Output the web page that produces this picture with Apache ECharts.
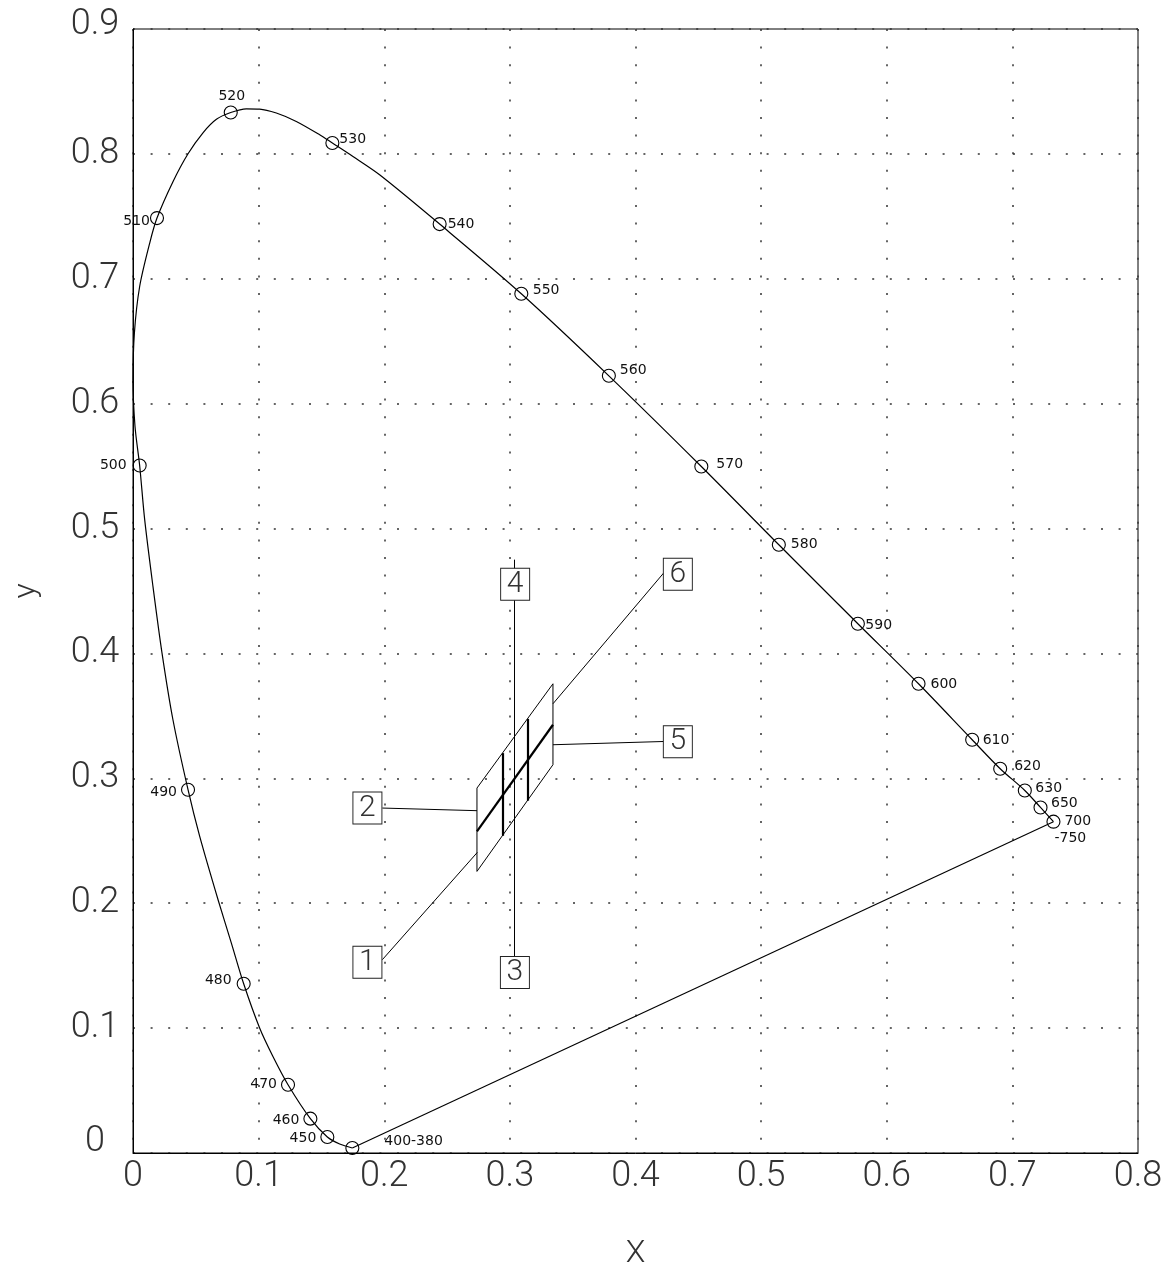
<!DOCTYPE html>
<html>
<head>
<meta charset="utf-8">
<script src="https://cdn.jsdelivr.net/npm/echarts@6/dist/echarts.min.js"></script>
<style>
html,body{margin:0;padding:0;background:#fff;}
#c{width:1176px;height:1266px;}
</style>
</head>
<body>
<div id="c"></div>
<script>
// ---- data ----
// marked wavelengths (circles)
const markLabels = ['400-380','450','460','470','480','490','500','510','520','530','540','550','560','570','580','590','600','610','620','630','650','700'];
const markX = [0.1746,0.1547,0.1412,0.1234,0.0881,0.0438,0.0053,0.0191,0.0778,0.1587,0.2441,0.3091,0.3788,0.4524,0.5141,0.5770,0.6253,0.6680,0.6903,0.7099,0.7224,0.7327];
const markY = [0.0040,0.0128,0.0275,0.0547,0.1355,0.2909,0.5505,0.7486,0.8331,0.8087,0.7438,0.6880,0.6223,0.5497,0.4870,0.4238,0.3757,0.3309,0.3077,0.2903,0.2767,0.2653];
// spectral locus
const locusX = [0.1746,0.1645,0.1547,0.1412,0.1234,0.1114,0.1008,0.0881,0.0783,0.0677,0.0531,0.0438,0.0318,0.0231,0.0159,0.0093,0.0053,0.0016,0.0000,0.0011,0.0053,0.0133,0.0191,0.0318,0.0438,0.0557,0.0664,0.0778,0.0902,0.1008,0.1141,0.1300,0.1486,0.1587,0.1751,0.1963,0.2441,0.3091,0.3788,0.4524,0.5141,0.5770,0.6253,0.6680,0.6903,0.7099,0.7224,0.7327];
const locusY = [0.0040,0.0072,0.0128,0.0275,0.0547,0.0773,0.1001,0.1355,0.1681,0.2028,0.2535,0.2909,0.3469,0.4003,0.4536,0.5071,0.5505,0.5817,0.6191,0.6565,0.6938,0.7286,0.7486,0.7777,0.8001,0.8169,0.8277,0.8331,0.8361,0.8359,0.8327,0.8260,0.8153,0.8087,0.7979,0.7833,0.7438,0.6880,0.6223,0.5497,0.4870,0.4238,0.3757,0.3309,0.3077,0.2903,0.2767,0.2653];
// purple line (closing)
const purpleX = [0.1746,0.7327];
const purpleY = [0.0040,0.2653];
// tolerance parallelogram and its grid lines
const paraX = [0.2738,0.3343,0.3343,0.2738,0.2738];
const paraY = [0.2922,0.3757,0.3109,0.2255,0.2922];
const thickLines = [
  [[0.2738,0.2575],[0.3343,0.3429]],
  [[0.2940,0.3202],[0.2940,0.2540]],
  [[0.3139,0.3476],[0.3139,0.2821]]
];
// leader lines to numbered boxes
const leaderLines = [
  [[0.1985,0.1548],[0.2741,0.2407]],
  [[0.3343,0.3597],[0.4224,0.4644]],
  [[0.1985,0.2762],[0.2738,0.2741]],
  [[0.3343,0.3269],[0.4224,0.3295]],
  [[0.3038,0.4751],[0.3038,0.1446]]
];
const boxLabels = ['1','2','3','4','5','6'];
const boxX = [0.1866,0.1866,0.3040,0.3042,0.4337,0.4337];
const boxY = [0.1528,0.2762,0.1446,0.4554,0.3293,0.4634];
// tick labels
const xTicks = ['0','0.1','0.2','0.3','0.4','0.5','0.6','0.7','0.8'];
const yTicks = ['0','0.1','0.2','0.3','0.4','0.5','0.6','0.7','0.8','0.9'];

// ---- label placement (style) ----
const labelPlace = {
  '400-380':['left',32,-7], '450':['right',-11,1], '460':['right',-11,2], '470':['right',-11,0],
  '480':['right',-12,-3.5], '490':['right',-11,2.5], '500':['right',-13,0], '510':['right',-7,3],
  '520':['center',1,-16], '530':['left',7,-4], '540':['left',8,0], '550':['left',11.5,-3],
  '560':['left',11,-5], '570':['left',15,-2.5], '580':['left',12,0], '590':['left',7.5,2],
  '600':['left',12,1], '610':['left',10.5,1], '620':['left',14,-2], '630':['left',10.5,-2.5],
  '650':['left',10.5,-4.5], '700':['left',1,8.5]
};

const TF = 'Roboto';
const chart = echarts.init(document.getElementById('c'), null, {renderer:'canvas'});

const markData = markLabels.map((l,i)=>{
  const p = labelPlace[l];
  return {value:[markX[i],markY[i]], name:l,
    label:{show:true, position:'inside', align:p[0], verticalAlign:'middle', offset:[p[1],p[2]],
      formatter: l==='700' ? '{a|700}\n{b|-750}' : l}};
});

const option = {
  animation:false,
  backgroundColor:'#fff',
  grid:{left:133, top:29, right:38, bottom:113, outerBoundsMode:'none', containLabel:false,
    show:true, borderColor:'#000', borderWidth:1, backgroundColor:'transparent'},
  xAxis:{
    type:'value', min:0, max:0.8, interval:0.1,
    axisLine:{show:true, lineStyle:{color:'#000', width:1}},
    axisTick:{show:false},
    splitLine:{show:true, lineStyle:{color:'#333', width:1.5, type:[2,15.6]}},
    axisLabel:{margin:6, fontFamily:TF, fontWeight:300, fontSize:36, color:'#333',
      formatter:(v)=>xTicks[Math.round(v*10)]},
    name:'X', nameLocation:'middle', nameGap:85,
    nameTextStyle:{fontFamily:TF, fontWeight:300, fontSize:32, color:'#333'}
  },
  yAxis:{
    type:'value', min:0, max:0.9, interval:0.1,
    axisLine:{show:true, lineStyle:{color:'#000', width:1}},
    axisTick:{show:false},
    splitLine:{show:true, lineStyle:{color:'#333', width:1.5, type:[2,15.6]}},
    axisLabel:{margin:38, align:'center', fontFamily:TF, fontWeight:300, fontSize:36, color:'#333',
      formatter:(v)=>{const k=Math.round(v*10); const t=yTicks[k];
        if(k===0) return '{z|'+t+'}'; if(k===9) return '{n|'+t+'}'; return t;},
      rich:{z:{fontFamily:TF, fontWeight:300, fontSize:36, color:'#333', padding:[0,0,22,0]},
            n:{fontFamily:TF, fontWeight:300, fontSize:36, color:'#333', padding:[0,0,8,0]}}},
    name:'y', nameLocation:'middle', nameGap:90,
    nameTextStyle:{fontFamily:TF, fontWeight:300, fontSize:32, color:'#333'}
  },
  series:[
    {type:'line', data:locusX.map((x,i)=>[x,locusY[i]]), smooth:0.3, showSymbol:false, symbol:'none',
      lineStyle:{color:'#000', width:1.2}, z:3, silent:true},
    {type:'line', data:purpleX.map((x,i)=>[x,purpleY[i]]), showSymbol:false, symbol:'none',
      lineStyle:{color:'#000', width:1.2}, z:3, silent:true},
    {type:'line', data:paraX.map((x,i)=>[x,paraY[i]]), showSymbol:false, symbol:'none',
      lineStyle:{color:'#000', width:1}, z:4, silent:true},
    {type:'lines', coordinateSystem:'cartesian2d', data:thickLines.map(c=>({coords:c})),
      lineStyle:{color:'#000', width:2.2, opacity:1}, z:4, silent:true},
    {type:'lines', coordinateSystem:'cartesian2d', data:leaderLines.map(c=>({coords:c})),
      lineStyle:{color:'#000', width:1, opacity:1}, z:4, silent:true},
    {type:'scatter', data:boxX.map((x,i)=>({value:[x,boxY[i]], name:boxLabels[i]})),
      symbol:'rect', symbolSize:[29,32],
      itemStyle:{color:'#fff', borderColor:'#222', borderWidth:1, opacity:1},
      label:{show:true, position:'inside', formatter:'{b}', fontFamily:TF, fontWeight:300, fontSize:30, color:'#333'},
      z:6, silent:true},
    {type:'scatter', data:markData, symbol:'circle', symbolSize:13,
      itemStyle:{color:'rgba(0,0,0,0)', borderColor:'#000', borderWidth:1.1, opacity:1},
      label:{fontFamily:'DejaVu Sans', fontSize:14, color:'#111',
        rich:{a:{fontFamily:'DejaVu Sans', fontSize:14, color:'#111', lineHeight:17, padding:[0,0,0,10]},
              b:{fontFamily:'DejaVu Sans', fontSize:14, color:'#111', lineHeight:17}}},
      z:7, silent:true}
  ]
};
chart.setOption(option);
</script>
</body>
</html>
